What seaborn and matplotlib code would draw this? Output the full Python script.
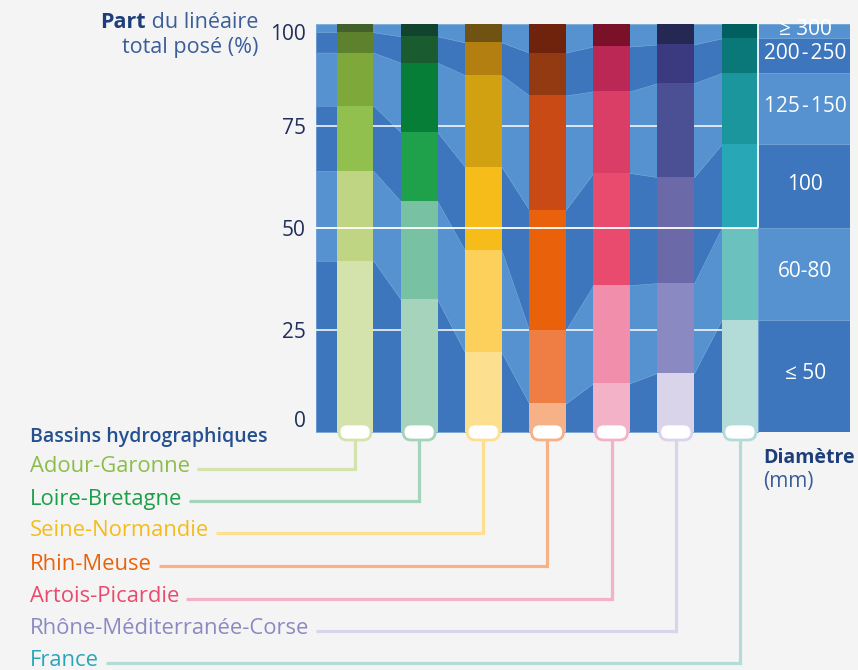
import matplotlib
matplotlib.use("Agg")
import matplotlib.pyplot as plt
import seaborn as sns
import numpy as np
from matplotlib.patches import FancyBboxPatch, Rectangle

# Water basins and share (%) of total laid pipe length by diameter class
basins = ["Adour-Garonne", "Loire-Bretagne", "Seine-Normandie", "Rhin-Meuse",
          "Artois-Picardie", "Rhône-Méditerranée-Corse", "France"]
classes = ["≤ 50", "60-80", "100", "125\u200a-\u200a150", "200\u200a-\u200a250", "≥ 300"]

le50     = [42.0, 32.5, 19.5,  7.0, 12.0, 14.5, 27.5]
d60_80   = [22.0, 24.0, 25.0, 18.0, 24.0, 22.0, 22.5]
d100     = [16.0, 17.0, 20.5, 29.5, 27.5, 26.0, 20.5]
d125_150 = [13.0, 17.0, 22.5, 28.0, 20.0, 23.0, 17.5]
d200_250 = [ 5.0,  6.5,  8.0, 10.5, 11.0,  9.5,  8.5]
ge300    = [ 2.0,  3.0,  4.5,  7.0,  5.5,  5.0,  3.5]
shares = [le50, d60_80, d100, d125_150, d200_250, ge300]

# Colour ramps per basin, light (small pipes) to dark (large pipes)
ramps = {
    "Adour-Garonne":            ["#d4e3ac", "#bfd583", "#91c04f", "#7ea83a", "#5d812c", "#44602a"],
    "Loire-Bretagne":           ["#a5d3bc", "#78c1a3", "#1fa04a", "#067e38", "#1a5c2f", "#10442f"],
    "Seine-Normandie":          ["#fde08f", "#fcd05a", "#f6bc1a", "#d2a111", "#b27f10", "#705313"],
    "Rhin-Meuse":               ["#f6b187", "#ef7e44", "#e9620b", "#c94a15", "#943a13", "#70230c"],
    "Artois-Picardie":          ["#f4b2c8", "#f08eab", "#e94b6e", "#da3e67", "#bb2856", "#7b1128"],
    "Rhône-Méditerranée-Corse": ["#d9d4ea", "#8b89c1", "#6c69a9", "#4b4f93", "#3b3a80", "#242852"],
    "France":                   ["#b3dcd9", "#6bc1bd", "#28a7b6", "#1a969c", "#0a7878", "#005f5f"],
}
label_colors = ["#8cbd4a", "#1f9e4a", "#f6bc1a", "#e9620b", "#e94b6e", "#8b89c1", "#28a7b6"]

BG = "#f4f4f4"
BLUE_DARK = "#3d76bc"
BLUE_LIGHT = "#5592cf"
band_colors = [BLUE_DARK, BLUE_LIGHT] * 3
NAVY = "#1d3e7a"
NAVY_SOFT = "#3b5e9a"

sns.set_theme(style="white")
plt.rcParams["font.family"] = ["Open Sans", "DejaVu Sans"]

W, H = 858, 670
fig = plt.figure(figsize=(W / 100, H / 100), dpi=100, facecolor=BG)

x_left_px, x_right_px, y_top_px, y_bot_px = 315.7, 850.0, 24.0, 432.0
ax = fig.add_axes([x_left_px / W, 1 - y_bot_px / H,
                   (x_right_px - x_left_px) / W, (y_bot_px - y_top_px) / H])
ax.set_facecolor(BG)

bar_w = 0.572
n = len(basins)
x_min, x_max = -0.613, 7.716
panel_x0 = n - 1 + bar_w / 2

cum = np.cumsum(np.array(shares), axis=0)          # (classes, basins)
lower = np.vstack([np.zeros(n), cum[:-1]])

# Blue ribbons linking the class boundaries from one basin to the next
xs = [x_min]
for i in range(n):
    xs += [i - bar_w / 2, i + bar_w / 2]
xs = np.array(xs)
for k in range(len(classes)):
    lo = [lower[k, 0]] + [v for v in lower[k] for _ in range(2)]
    hi = [cum[k, 0]] + [v for v in cum[k] for _ in range(2)]
    ax.fill_between(xs, lo, hi, color=band_colors[k], lw=0.4,
                    edgecolor="#6a9fd6", zorder=1)

for yv in (25, 75):
    ax.hlines(yv, x_min, panel_x0, color="white", lw=1.3, alpha=0.85, zorder=2)

# Stacked bars: draw cumulative totals from the top class down
for k in range(len(classes) - 1, -1, -1):
    pal = {b: ramps[b][k] for b in basins}
    sns.barplot(x=basins, y=cum[k], hue=basins, palette=pal, order=basins,
                width=bar_w, saturation=1, legend=False, linewidth=0,
                ax=ax, zorder=3)

ax.hlines(50, x_min, panel_x0, color="white", lw=1.3, zorder=4)
ax.vlines(panel_x0, 50, 100, color="white", lw=1.2, zorder=4)

# Diameter class panel on the right, using the national distribution
fr = basins.index("France")
for k, lab in enumerate(classes):
    y0, y1 = lower[k, fr], cum[k, fr]
    ax.add_patch(Rectangle((panel_x0, y0), x_max - panel_x0, y1 - y0,
                           facecolor=band_colors[k], edgecolor="#6fa3d8",
                           lw=0.6, zorder=2))
    ax.text((panel_x0 + x_max) / 2 + 0.02, (y0 + y1) / 2 + 0.5, lab,
            color="white", fontsize=15, ha="center", va="center",
            zorder=5, clip_on=False)

ax.set_xlim(x_min, x_max)
ax.set_ylim(0, 100)
ax.set_xticks([])
ax.set_xlabel("")
ax.set_ylabel("")
ax.set_yticks([0, 25, 50, 75, 100])
ax.set_yticklabels(["0", "25", "50", "75", "100"])
ax.tick_params(axis="y", length=0, pad=7, labelsize=15, labelcolor="#1f2e5a")
ax.get_yticklabels()[0].set_verticalalignment("bottom")
ax.get_yticklabels()[-1].set_verticalalignment("top")
for s in ax.spines.values():
    s.set_visible(False)

# Overlay in pixel units for titles, pills and leader lines
ov = fig.add_axes([0, 0, 1, 1], zorder=10)
ov.set_xlim(0, W)
ov.set_ylim(H, 0)
ov.axis("off")
ov.patch.set_alpha(0)

renderer = fig.canvas.get_renderer()

t1 = ov.text(258, 23, " du linéaire", fontsize=15.5, color=NAVY_SOFT,
             ha="right", va="center")
x_part = t1.get_window_extent(renderer).x0
ov.text(x_part, 23, "Part", fontsize=15.5, color=NAVY, fontweight="bold",
        ha="right", va="center")
ov.text(258, 48, "total posé (%)", fontsize=15.5, color=NAVY_SOFT,
        ha="right", va="center")

ov.text(763, 458, "Diamètre", fontsize=14, color=NAVY, fontweight="bold",
        ha="left", va="center")
ov.text(763, 481, "(mm)", fontsize=15, color=NAVY_SOFT, ha="left", va="center")

ov.text(30, 437, "Bassins hydrographiques", fontsize=14, color="#24508f",
        fontweight="semibold", ha="left", va="center")

label_y = [467, 499, 531, 564, 597, 629, 661]
for i, b in enumerate(basins):
    cx = ax.transData.transform((i, 0))[0]
    light = ramps[b][0]
    t = ov.text(30, label_y[i], b, fontsize=15.8, color=label_colors[i],
                fontweight="medium", ha="left", va="center")
    x_end = t.get_window_extent(renderer).x1 + 7
    ov.plot([cx, cx, x_end], [440, label_y[i] + 2, label_y[i] + 2],
            color=light, lw=2.3, solid_joinstyle="miter",
            solid_capstyle="butt", zorder=1)
    ov.add_patch(FancyBboxPatch((cx - 16, 424), 32, 16,
                                boxstyle="round,pad=0,rounding_size=8",
                                facecolor="white", edgecolor=light, lw=2.0,
                                zorder=3))

fig.savefig("out.png", dpi=100, facecolor=BG)
